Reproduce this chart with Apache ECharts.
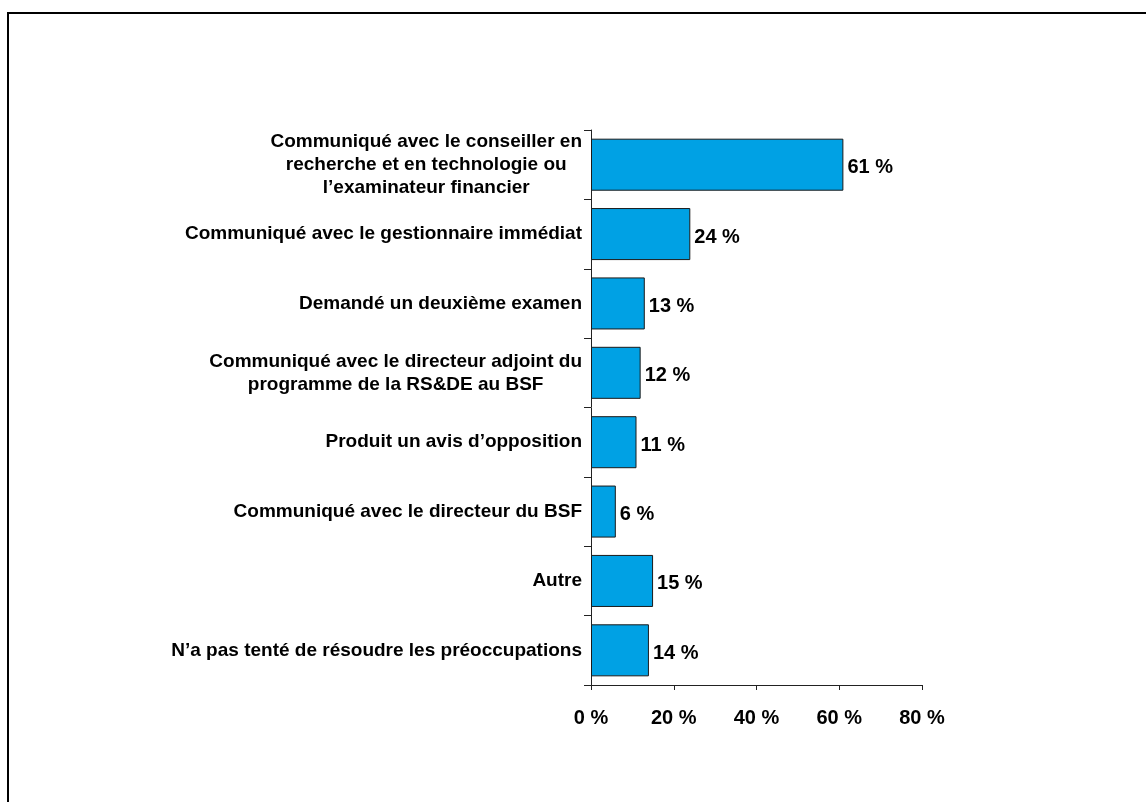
<!DOCTYPE html>
<html>
<head>
<meta charset="utf-8">
<script src="https://cdn.jsdelivr.net/npm/echarts@6/dist/echarts.min.js"></script>
<style>
  html, body { margin: 0; padding: 0; background: #fff; }
  #chart { width: 1146px; height: 802px; }
</style>
</head>
<body>
<div id="chart"></div>
<script>
// Actions taken to resolve concerns (share of respondents, %)
const categories = [
  "Communiqué avec le conseiller en\nrecherche et en technologie ou\nl’examinateur financier",
  "Communiqué avec le gestionnaire immédiat",
  "Demandé un deuxième examen",
  "Communiqué avec le directeur adjoint du\nprogramme de la RS&DE au BSF",
  "Produit un avis d’opposition",
  "Communiqué avec le directeur du BSF",
  "Autre",
  "N’a pas tenté de résoudre les préoccupations"
];
const values = [61, 24, 13, 12, 11, 6, 15, 14];
const xTicks = [0, 20, 40, 60, 80];

const FONT = 'Arial, "Liberation Sans", sans-serif';

const chart = echarts.init(document.getElementById('chart'), null, { renderer: 'canvas' });

chart.setOption({
  backgroundColor: '#ffffff',
  animation: false,
  graphic: [{
    type: 'rect',
    shape: { x: 8, y: 13, width: 1160, height: 820 },
    style: { fill: 'none', stroke: '#000', lineWidth: 2 },
    silent: true
  }],
  grid: { left: 591, right: 224, top: 130, bottom: 117, containLabel: false },
  xAxis: {
    type: 'value',
    min: xTicks[0],
    max: xTicks[xTicks.length - 1],
    interval: xTicks[1] - xTicks[0],
    splitLine: { show: false },
    axisLine: { show: true, lineStyle: { color: '#222', width: 1 } },
    axisTick: { show: true, length: 5, inside: false, lineStyle: { color: '#222' } },
    axisLabel: {
      margin: 23,
      color: '#000',
      fontFamily: FONT,
      fontWeight: 'bold',
      fontSize: 20,
      formatter: v => v + ' %'
    }
  },
  yAxis: {
    type: 'category',
    data: categories,
    inverse: true,
    axisLine: { show: true, lineStyle: { color: '#222', width: 1 } },
    axisTick: { show: true, length: 7, alignWithLabel: false, lineStyle: { color: '#222' } },
    axisLabel: {
      margin: 9,
      color: '#000',
      fontFamily: FONT,
      fontWeight: 'bold',
      fontSize: 19,
      lineHeight: 23,
      formatter: s => s.split('\n').map(l => '{c|' + l + '}').join('\n'),
      rich: {
        c: {
          align: 'center',
          color: '#000',
          fontFamily: FONT,
          fontWeight: 'bold',
          fontSize: 19,
          lineHeight: 23
        }
      }
    }
  },
  series: [{
    type: 'bar',
    data: values,
    barCategoryGap: '25%',
    itemStyle: { color: '#00A1E4', borderColor: '#1a1a1a', borderWidth: 1 },
    label: {
      show: true,
      position: 'right',
      distance: 4,
      offset: [0, 3],
      color: '#000',
      fontFamily: FONT,
      fontWeight: 'bold',
      fontSize: 20,
      formatter: p => p.value + ' %'
    }
  }]
});
</script>
</body>
</html>
